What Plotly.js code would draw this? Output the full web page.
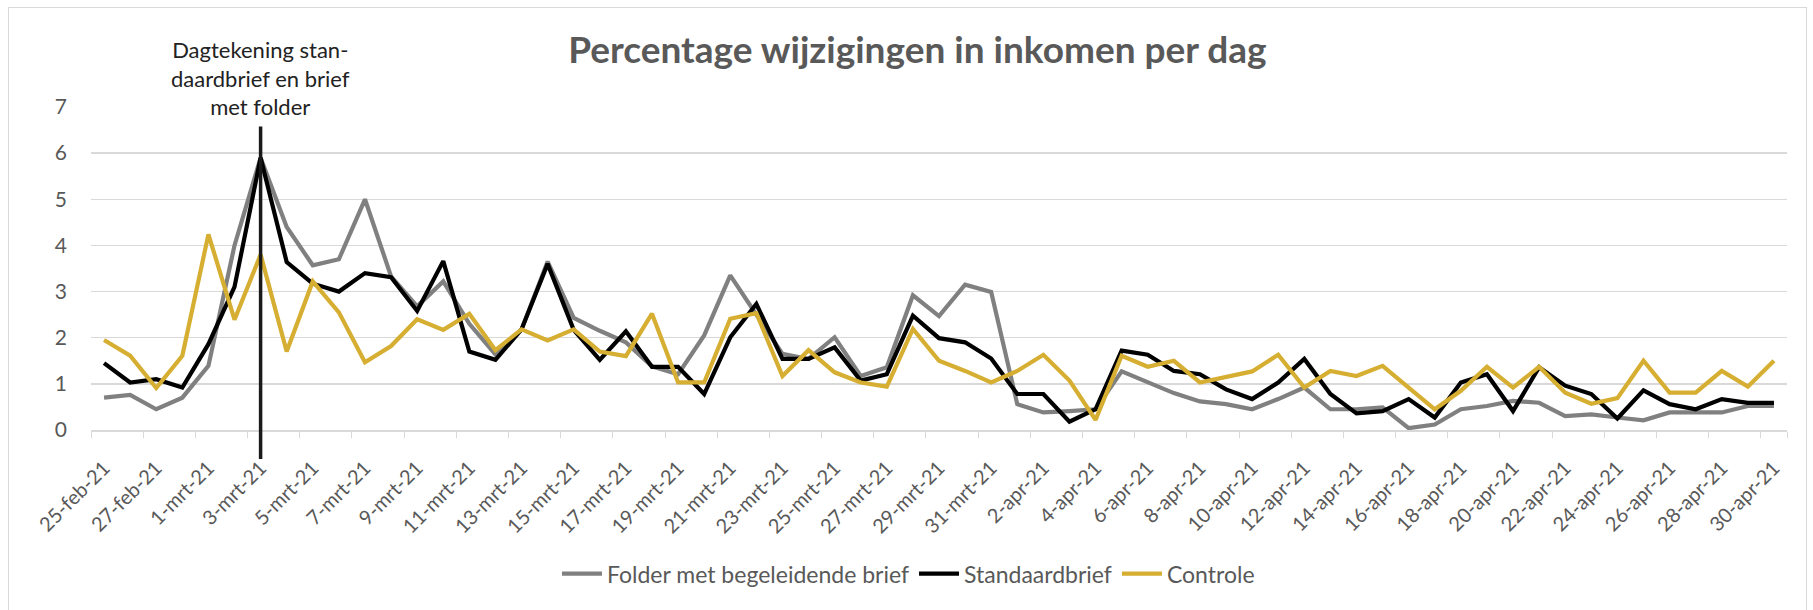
<!DOCTYPE html>
<html>
<head>
<meta charset="utf-8">
<script src="https://cdn.plot.ly/plotly-3.0.1.min.js"></script>
<style>
  html, body { margin: 0; padding: 0; background: #fff; }
  #wrap { position: relative; width: 1813px; height: 610px; }
  #chart { width: 1813px; height: 610px; }
  #frame { position: absolute; left: 8px; top: 7px; width: 1797px; height: 620px; border: 1.5px solid #d9d9d9; pointer-events: none; }
</style>
</head>
<body>
<div id="wrap"><div id="chart"></div><div id="frame"></div></div>
<script>
var dates = [
  "25-feb-21","26-feb-21","27-feb-21","28-feb-21",
  "1-mrt-21","2-mrt-21","3-mrt-21","4-mrt-21","5-mrt-21","6-mrt-21","7-mrt-21","8-mrt-21","9-mrt-21","10-mrt-21",
  "11-mrt-21","12-mrt-21","13-mrt-21","14-mrt-21","15-mrt-21","16-mrt-21","17-mrt-21","18-mrt-21","19-mrt-21","20-mrt-21",
  "21-mrt-21","22-mrt-21","23-mrt-21","24-mrt-21","25-mrt-21","26-mrt-21","27-mrt-21","28-mrt-21","29-mrt-21","30-mrt-21","31-mrt-21",
  "1-apr-21","2-apr-21","3-apr-21","4-apr-21","5-apr-21","6-apr-21","7-apr-21","8-apr-21","9-apr-21","10-apr-21",
  "11-apr-21","12-apr-21","13-apr-21","14-apr-21","15-apr-21","16-apr-21","17-apr-21","18-apr-21","19-apr-21","20-apr-21",
  "21-apr-21","22-apr-21","23-apr-21","24-apr-21","25-apr-21","26-apr-21","27-apr-21","28-apr-21","29-apr-21","30-apr-21"
];

var folder = [
  0.70, 0.76, 0.45, 0.70, 1.39, 4.00, 5.90, 4.40, 3.57, 3.70, 5.00, 3.33, 2.68, 3.22,
  2.30, 1.64, 2.18, 3.65, 2.43, 2.15, 1.90, 1.38, 1.21, 2.05,
  3.35, 2.52, 1.65, 1.54, 2.01, 1.17, 1.36, 2.92, 2.47, 3.15, 2.99,
  0.56, 0.38, 0.41, 0.45, 1.27, 1.03, 0.80, 0.62, 0.56, 0.45,
  0.67, 0.92, 0.45, 0.45, 0.49, 0.04, 0.12, 0.45, 0.52, 0.63,
  0.59, 0.30, 0.34, 0.27, 0.21, 0.38, 0.38, 0.38, 0.52, 0.52
];

var standaard = [
  1.45, 1.03, 1.10, 0.92, 1.86, 3.10, 5.90, 3.64, 3.17, 3.00, 3.40, 3.31, 2.58, 3.66,
  1.70, 1.52, 2.18, 3.60, 2.17, 1.52, 2.14, 1.37, 1.37, 0.78,
  2.01, 2.73, 1.54, 1.54, 1.79, 1.07, 1.21, 2.48, 1.99, 1.90, 1.55,
  0.78, 0.78, 0.18, 0.45, 1.72, 1.63, 1.28, 1.21, 0.88, 0.67,
  1.03, 1.54, 0.78, 0.36, 0.41, 0.67, 0.27, 1.03, 1.21, 0.41,
  1.36, 0.96, 0.78, 0.25, 0.86, 0.56, 0.45, 0.67, 0.59, 0.59
];

var controle = [
  1.95, 1.61, 0.91, 1.61, 4.24, 2.39, 3.80, 1.70, 3.22, 2.55, 1.47, 1.82, 2.40, 2.17,
  2.52, 1.73, 2.18, 1.94, 2.18, 1.70, 1.60, 2.52, 1.03, 1.03,
  2.41, 2.53, 1.17, 1.73, 1.25, 1.03, 0.94, 2.19, 1.50, 1.28, 1.03,
  1.28, 1.63, 1.07, 0.22, 1.61, 1.37, 1.50, 1.03, 1.14, 1.27,
  1.63, 0.92, 1.28, 1.17, 1.39, 0.92, 0.45, 0.85, 1.37, 0.92,
  1.37, 0.81, 0.57, 0.69, 1.50, 0.81, 0.81, 1.28, 0.94, 1.50
];

var seriesNames = ["Folder met begeleidende brief", "Standaardbrief", "Controle"];
var yTicks = [0, 1, 2, 3, 4, 5, 6, 7];
var tickDates = dates.filter(function (d, i) { return i % 2 === 0; });
var markerDate = "3-mrt-21";
var markerPaperX = (dates.indexOf(markerDate) + 0.5) / dates.length;

var FONT = "Lato, 'Open Sans', sans-serif";

var traces = [
  { x: dates, y: folder, name: seriesNames[0], type: "scatter", mode: "lines",
    line: { color: "#808080", width: 4.2 } },
  { x: dates, y: standaard, name: seriesNames[1], type: "scatter", mode: "lines",
    line: { color: "#000000", width: 4.2 } },
  { x: dates, y: controle, name: seriesNames[2], type: "scatter", mode: "lines",
    line: { color: "#D6AE32", width: 4.2 } }
];

var layout = {
  width: 1813, height: 610,
  margin: { l: 91, r: 26, t: 107, b: 180 },
  paper_bgcolor: "#ffffff", plot_bgcolor: "#ffffff",
  font: { family: FONT, color: "#595959" },
  title: { text: "<b>Percentage wijzigingen in inkomen per dag</b>",
    font: { family: FONT, size: 37, color: "#595959" },
    x: 0.506, xanchor: "center", y: 0.918, yanchor: "middle" },
  showlegend: true,
  legend: { orientation: "h", x: 0.482, xanchor: "center", y: -0.445, yanchor: "middle",
    font: { family: FONT, size: 23, color: "#595959" }, traceorder: "normal",
    itemwidth: 40 },
  xaxis: {
    type: "category", categoryorder: "array", categoryarray: dates,
    range: [-0.5, dates.length - 0.5],
    tickmode: "array", tickvals: tickDates, ticktext: tickDates,
    tickson: "boundaries", ticks: "outside", ticklen: 6, tickcolor: "#d9d9d9",
    tickangle: -45, tickfont: { family: FONT, size: 20, color: "#595959" },
    ticklabelstandoff: 17,
    showgrid: false, showline: true, linecolor: "#d9d9d9", linewidth: 1.5,
    zeroline: false, fixedrange: true
  },
  yaxis: {
    range: [0, 7], tickmode: "array", tickvals: yTicks,
    showgrid: true, gridcolor: "#d9d9d9", gridwidth: 1.5,
    zeroline: false, showline: false, ticks: "",
    tickfont: { family: FONT, size: 21, color: "#595959" },
    ticklabelstandoff: 23, fixedrange: true
  },
  shapes: [
    { type: "line", xref: "paper", yref: "paper", x0: markerPaperX, x1: markerPaperX,
      y0: -0.09, y1: 0.94, line: { color: "#1a1a1a", width: 3.5 }, layer: "above" }
  ],
  annotations: [
    { xref: "paper", yref: "paper", x: markerPaperX, y: 1.089, yanchor: "middle", xanchor: "center",
      text: "Dagtekening stan-<br>daardbrief en brief<br>met folder", showarrow: false,
      align: "center", font: { family: FONT, size: 22, color: "#222222" } }
  ]
};

Plotly.newPlot("chart", traces, layout, { displayModeBar: false, staticPlot: true });
</script>
</body>
</html>
